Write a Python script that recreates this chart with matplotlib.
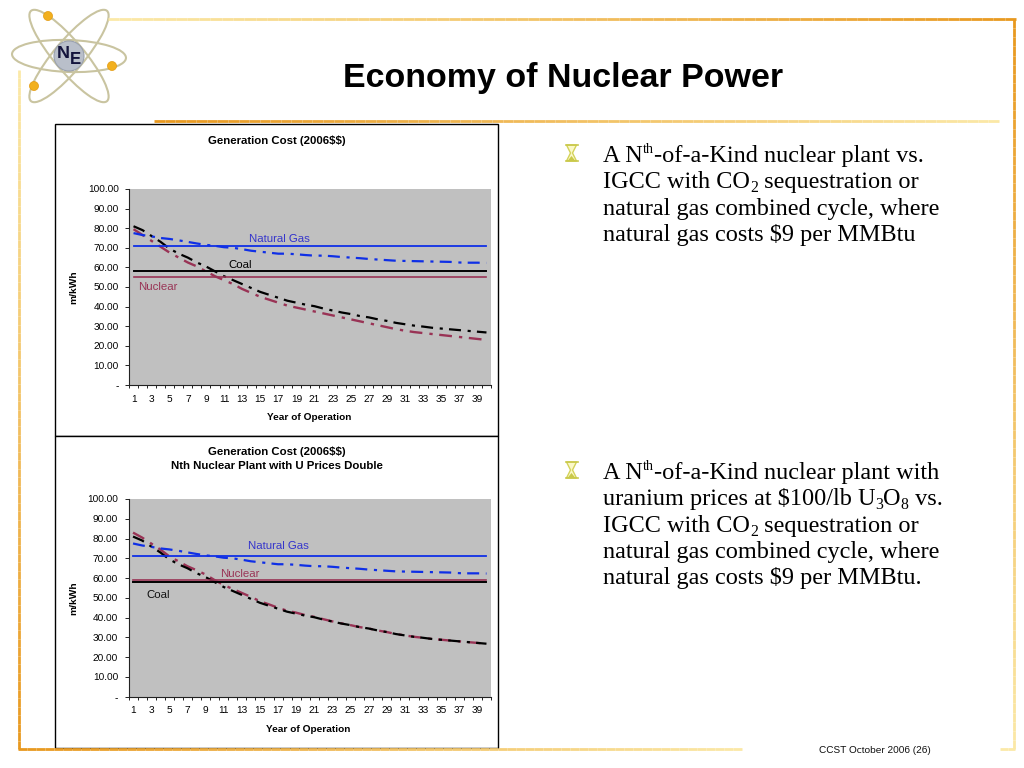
import matplotlib
matplotlib.use("Agg")
import matplotlib.pyplot as plt
from matplotlib.patches import Ellipse, Circle, Polygon, Rectangle
from matplotlib.colors import to_rgb

plt.rcParams['text.hinting'] = 'native'

W, H = 1024, 768

years = list(range(1, 41))
tick_years = list(range(1, 41, 2))
y_ticks = [0, 10, 20, 30, 40, 50, 60, 70, 80, 90, 100]
y_labels = ['-', '10.00', '20.00', '30.00', '40.00', '50.00', '60.00', '70.00', '80.00', '90.00', '100.00']

coal_levelized = [81, 79, 76, 73, 69.5, 67, 65, 62.5, 60.5, 58, 55.5, 53.5, 51.5, 49.5, 47.5, 46, 44.5, 43, 42, 41,
                  40.2, 39, 38, 37, 36.2, 35.2, 34.5, 33.5, 32.7, 31.7, 31, 30.3, 29.8, 29.2, 28.8, 28.4, 28, 27.6, 27.2, 26.8]
nuclear_a = [79.5, 76.5, 73.5, 70.5, 67.5, 65, 62.5, 60.5, 58, 55.5, 53.5, 51.5, 49, 47, 45, 43.5, 42, 40.5, 39.5, 38.5,
             37.5, 36.5, 35.5, 34.5, 33.5, 32.5, 31.5, 30.5, 29.5, 28.5, 27.7, 27, 26.5, 26, 25.5, 25, 24.5, 24, 23.5, 23]
nuclear_b = [83, 80.5, 77.5, 74.5, 71, 68.5, 66, 64, 61.8, 59, 56.5, 54.5, 52.5, 50.5, 48.3, 46.7, 45, 43.5, 42.5, 41.3,
             40.4, 39.2, 38.1, 37.1, 36.2, 35.2, 34.5, 33.5, 32.7, 31.7, 31, 30.3, 29.8, 29.2, 28.8, 28.4, 28, 27.6, 27.2, 26.8]
gas_levelized = [77.5, 76.5, 75.8, 75, 74.5, 73.8, 73, 72.2, 71.5, 71, 70.3, 70, 69.3, 68.5, 68, 67.5, 67, 67, 66.7, 66.3,
                 66, 66, 65.7, 65.3, 65, 64.7, 64.3, 64, 63.7, 63.4, 63.3, 63.2, 63.1, 63, 62.9, 62.8, 62.5, 62.4, 62.4, 62.3]

gas_flat = 71
coal_flat_a = 58
nuclear_flat_a = 55
coal_flat_b = 58
nuclear_flat_b = 59

BLUE = '#0F2FE6'
MAROON = '#993355'
ORANGE = '#E8981E'
PALE = '#FBE9A8'
DASH = (0, (5.4, 3.0, 1.4, 2.8))

fig = plt.figure(figsize=(W / 100, H / 100), dpi=100, facecolor='white')
bg = fig.add_axes([0, 0, 1, 1])
bg.set_xlim(0, W)
bg.set_ylim(H, 0)
bg.axis('off')


def grad_line(x0, y0, x1, y1, c0, c1, lw=2.0, n=60):
    r0, r1 = to_rgb(c0), to_rgb(c1)
    for i in range(n):
        t0, t1 = i / n, (i + 1) / n
        col = [a + (b - a) * t0 for a, b in zip(r0, r1)]
        bg.plot([x0 + (x1 - x0) * t0, x0 + (x1 - x0) * t1], [y0 + (y1 - y0) * t0, y0 + (y1 - y0) * t1],
                color=col, lw=lw, solid_capstyle='butt')


def draw_frame():
    grad_line(108, 19, 1016, 19, PALE, ORANGE, n=80)
    grad_line(1014, 19, 1014, 749, ORANGE, PALE, n=80)
    grad_line(19, 70, 19, 749, PALE, ORANGE, n=80)
    grad_line(18, 749, 742, 749, ORANGE, PALE, n=80)
    grad_line(1000, 749, 1015, 749, PALE, PALE, n=2)
    grad_line(154, 121, 999, 121, ORANGE, PALE, n=80)


def draw_logo():
    cx, cy = 69, 56
    for angle, w, h in [(2, 114, 32), (50, 118, 30), (-50, 118, 30)]:
        bg.add_patch(Ellipse((cx, cy), w, h, angle=angle, fill=False, ec='#C9C4A0', lw=1.5))
    bg.add_patch(Circle((cx, cy), 15, fc='#B9BFCA', ec='#9AA1AE', lw=0.8))
    bg.text(63, 53, 'N', fontsize=13, fontweight='bold', color='#14143C', family='Liberation Sans', ha='center', va='center')
    bg.text(75, 60, 'E', fontsize=12, fontweight='bold', color='#14143C', family='Liberation Sans', ha='center', va='center')
    for bx, by in [(48, 16), (112, 66), (34, 86)]:
        bg.add_patch(Circle((bx, by), 4.5, fc='#F2B01E', ec='#E39A10', lw=0.5))


def draw_hourglass(x, y):
    bg.add_patch(Polygon([(x - 5, y - 8), (x + 5, y - 8), (x + 1, y), (x + 5, y + 8), (x - 5, y + 8), (x - 1, y)],
                         closed=True, fc='#FBF8C8', ec='#D4D35A', lw=1.0))
    bg.add_patch(Polygon([(x - 4, y + 8), (x + 4, y + 8), (x, y + 3)], closed=True, fc='#C9C84A', ec='none'))
    bg.plot([x - 6, x + 6], [y - 8, y - 8], color='#C9C84A', lw=1.2)
    bg.plot([x - 6, x + 6], [y + 8, y + 8], color='#C9C84A', lw=1.2)


def draw_runs(x, y, runs, fontsize=17.5):
    # each run is (text, kind): n normal, u superscript, d subscript
    renderer = fig.canvas.get_renderer()
    for txt, kind in runs:
        size = {'n': fontsize, 'u': fontsize * 0.58, 'd': fontsize * 0.65}[kind]
        dy = {'n': 0, 'u': -9, 'd': 4}[kind]
        t = bg.text(x, y + dy, txt, fontsize=size, family='Liberation Serif', ha='left', va='baseline',
                    color='black', parse_math=False)
        x += t.get_window_extent(renderer).width


def draw_chart(left, top, right, bottom, coal, nuclear, coal_flat, nuclear_flat, labels):
    ax = fig.add_axes([left / W, 1 - bottom / H, (right - left) / W, (bottom - top) / H])
    ax.set_facecolor('#C0C0C0')
    ax.set_xlim(0.5, 40.5)
    ax.set_ylim(0, 100)
    for s in ('top', 'right'):
        ax.spines[s].set_visible(False)
    for s in ('left', 'bottom'):
        ax.spines[s].set_linewidth(0.8)
        ax.spines[s].set_color('#222222')

    ax.set_yticks(y_ticks)
    ax.set_yticklabels(y_labels, fontsize=7.2, family='Liberation Sans')
    ax.tick_params(axis='y', length=3, width=0.7, pad=4.5, color='#222222')
    ax.set_xticks([y + 0.5 for y in [0] + years])
    ax.set_xticklabels([])
    ax.tick_params(axis='x', which='major', length=2.5, width=0.7, color='#222222')
    ax.set_xticks(tick_years, minor=True)
    ax.set_xticklabels([str(y) for y in tick_years], minor=True, fontsize=7.2, family='Liberation Sans')
    ax.tick_params(axis='x', which='minor', length=0, pad=12)
    for lbl in ax.get_xticklabels(minor=True):
        lbl.set_verticalalignment('baseline')

    ax.plot(years, nuclear, color=MAROON, lw=1.7, ls=DASH)
    ax.plot(years, coal, color='black', lw=1.6, ls=DASH)
    ax.plot(years, gas_levelized, color=BLUE, lw=1.6, ls=DASH)
    ax.plot(years, [gas_flat] * 40, color=BLUE, lw=1.3)
    ax.plot(years, [coal_flat] * 40, color='black', lw=1.4)
    ax.plot(years, [nuclear_flat] * 40, color=MAROON, lw=1.2)

    for txt, x, y, col in labels:
        ax.text(x, y, txt, color=col, fontsize=8.2, family='Liberation Sans', ha='center', va='center')


draw_frame()
draw_logo()

bg.add_patch(Rectangle((55.2, 124), 443, 312.2, fc='white', ec='black', lw=1.0))
bg.add_patch(Rectangle((55.2, 436.2), 443, 311.3, fc='white', ec='black', lw=1.0))

draw_chart(129, 189, 491, 385, coal_levelized, nuclear_a, coal_flat_a, nuclear_flat_a,
           [('Natural Gas', 17.1, 74.5, '#3333CC'), ('Coal', 12.8, 61, 'black'), ('Nuclear', 3.7, 50, MAROON)])
draw_chart(128.5, 499, 491, 696.7, coal_levelized, nuclear_b, coal_flat_b, nuclear_flat_b,
           [('Natural Gas', 17.1, 76.2, '#3333CC'), ('Nuclear', 12.8, 62, MAROON), ('Coal', 3.8, 51.5, '#111111')])

small = dict(family='Liberation Sans', fontweight='bold', color='black', ha='center', va='center', parse_math=False)
bg.text(277, 141, 'Generation Cost (2006$$)', fontsize=8.2, **small)
bg.text(277, 451.5, 'Generation Cost (2006$$)', fontsize=8.2, **small)
bg.text(277, 466, 'Nth Nuclear Plant with U Prices Double', fontsize=8.2, **small)
bg.text(309, 418, 'Year of Operation', fontsize=7.3, **small)
bg.text(308.5, 729, 'Year of Operation', fontsize=7.3, **small)
bg.text(74, 287.5, 'm/kWh', fontsize=7.4, rotation=90, **small)
bg.text(74, 598, 'm/kWh', fontsize=7.4, rotation=90, **small)

bg.text(563.5, 78.5, 'Economy of Nuclear Power', fontsize=24.5, fontweight='bold', family='Liberation Sans',
        ha='center', va='center', color='black')
bg.text(875, 750.5, 'CCST October 2006 (26)', fontsize=7.2, family='Liberation Sans', ha='center', va='center',
        color='#111111')

para_a = [[('A N', 'n'), ('th', 'u'), ('-of-a-Kind nuclear plant vs.', 'n')],
          [('IGCC with CO', 'n'), ('2', 'd'), (' sequestration or', 'n')],
          [('natural gas combined cycle, where', 'n')],
          [('natural gas costs $9 per MMBtu', 'n')]]
para_b = [[('A N', 'n'), ('th', 'u'), ('-of-a-Kind nuclear plant with', 'n')],
          [('uranium prices at $100/lb U', 'n'), ('3', 'd'), ('O', 'n'), ('8', 'd'), (' vs.', 'n')],
          [('IGCC with CO', 'n'), ('2', 'd'), (' sequestration or', 'n')],
          [('natural gas combined cycle, where', 'n')],
          [('natural gas costs $9 per MMBtu.', 'n')]]

for lines, y0 in [(para_a, 162), (para_b, 479)]:
    for i, line in enumerate(lines):
        draw_runs(603, y0 + i * 26.3, line)
    draw_hourglass(571.5, y0 - 9)

fig.savefig('out.png', dpi=100)
